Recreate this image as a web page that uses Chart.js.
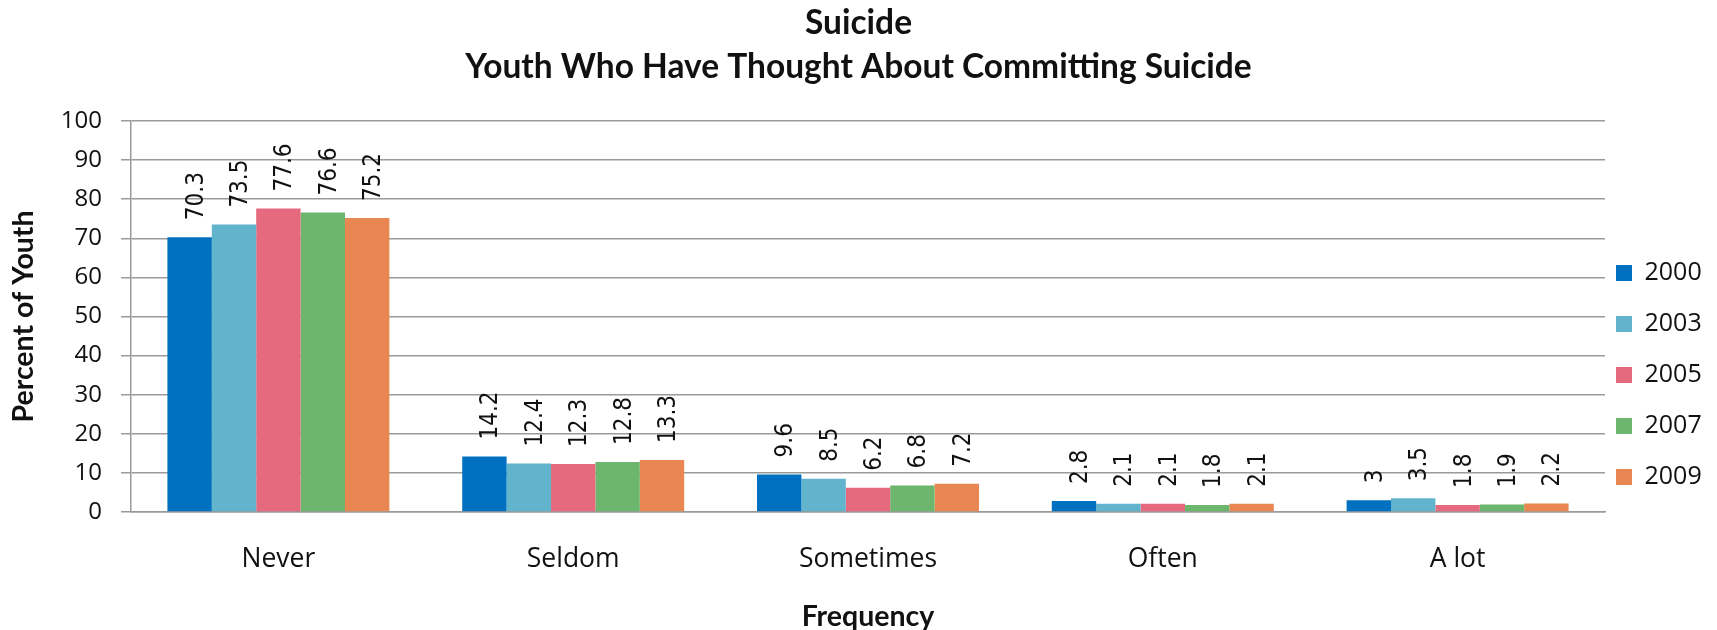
<!DOCTYPE html>
<html>
<head>
<meta charset="utf-8">
<title>Suicide - Youth Who Have Thought About Committing Suicide</title>
<script src="https://cdn.jsdelivr.net/npm/chart.js@4/dist/chart.umd.min.js"></script>
<style>
    html, body { margin: 0; padding: 0; background: #ffffff; }
    canvas { display: block; }
</style>
</head>
<body>
<canvas id="suicideChart" width="1717" height="630"></canvas>
<script>
const frequencies = ['Never', 'Seldom', 'Sometimes', 'Often', 'A lot'];
const years = ['2000', '2003', '2005', '2007', '2009'];
const yearColors = ['#0070C0', '#62B3CC', '#E56A7E', '#6DB66D', '#E88752'];

const values2000 = [70.3, 14.2, 9.6, 2.8, 3];
const values2003 = [73.5, 12.4, 8.5, 2.1, 3.5];
const values2005 = [77.6, 12.3, 6.2, 2.1, 1.8];
const values2007 = [76.6, 12.8, 6.8, 1.8, 1.9];
const values2009 = [75.2, 13.3, 7.2, 2.1, 2.2];
const seriesValues = [values2000, values2003, values2005, values2007, values2009];

const yTicks = [0, 10, 20, 30, 40, 50, 60, 70, 80, 90, 100];

// Rotated value labels above each bar
const barValueLabels = {
    id: 'barValueLabels',
    afterDatasetsDraw(chart) {
        const ctx = chart.ctx;
        ctx.save();
        ctx.font = '24px "DejaVu Sans Condensed", "DejaVu Sans"';
        ctx.fillStyle = '#111111';
        ctx.textAlign = 'left';
        ctx.textBaseline = 'alphabetic';
        chart.data.datasets.forEach((dataset, i) => {
            const meta = chart.getDatasetMeta(i);
            meta.data.forEach((bar, j) => {
                ctx.save();
                ctx.translate(bar.x + 13, bar.y - 17);
                ctx.rotate(-Math.PI / 2);
                ctx.fillText(String(dataset.data[j]), 0, 0);
                ctx.restore();
            });
        });
        ctx.restore();
    }
};

// Nudge the legend so it sits like the original one
const legendShift = {
    id: 'legendShift',
    afterLayout(chart) {
        const legend = chart.legend;
        if (!legend) return;
        legend.left -= 15;
        legend.right -= 15;
        legend.top += 60;
        legend.bottom += 60;
    }
};

const ctx = document.getElementById('suicideChart').getContext('2d');
new Chart(ctx, {
    type: 'bar',
    data: {
        labels: frequencies,
        datasets: years.map((year, i) => ({
            label: year,
            data: seriesValues[i],
            backgroundColor: yearColors[i],
            borderWidth: 0,
            categoryPercentage: 0.753,
            barPercentage: 1.0,
        })),
    },
    options: {
        responsive: false,
        animation: false,
        devicePixelRatio: 1,
        layout: { padding: 0 },
        scales: {
            x: {
                grid: { display: false, drawTicks: false },
                border: { display: true, color: '#9A9A9A', width: 1.5 },
                ticks: {
                    color: '#111111',
                    padding: 32,
                    font: { family: 'Open Sans', size: 26.5 },
                },
                title: {
                    display: true,
                    text: 'Frequency',
                    color: '#111111',
                    padding: { top: 0, bottom: 0 },
                    font: { family: 'Lato', size: 28.5, weight: 'bold', lineHeight: 0.95 },
                },
                afterFit(scale) {
                    scale.height = 118;
                },
            },
            y: {
                min: 0,
                max: 100,
                afterBuildTicks(scale) {
                    scale.ticks = yTicks.map(v => ({ value: v }));
                },
                grid: {
                    color: '#9A9A9A',
                    lineWidth: 1.5,
                    drawTicks: true,
                    tickLength: 10,
                    tickColor: '#9A9A9A',
                },
                border: { display: true, color: '#9A9A9A', width: 1.5 },
                ticks: {
                    color: '#111111',
                    padding: 19,
                    font: { family: 'Open Sans', size: 24 },
                },
                title: {
                    display: true,
                    text: 'Percent of Youth',
                    color: '#111111',
                    padding: { top: 8, bottom: 0 },
                    font: { family: 'Lato', size: 28.5, weight: 'bold', lineHeight: 1.1 },
                },
                afterFit(scale) {
                    scale.width = 131;
                },
            },
        },
        plugins: {
            title: {
                display: true,
                text: ['Suicide', 'Youth Who Have Thought About Committing Suicide'],
                color: '#111111',
                padding: { top: 1, bottom: 32 },
                font: { family: 'Lato', size: 33.5, weight: 'bold', lineHeight: '44px' },
            },
            legend: {
                position: 'right',
                maxWidth: 112,
                labels: {
                    boxWidth: 16,
                    boxHeight: 16,
                    padding: 26,
                    color: '#111111',
                    font: { family: 'Open Sans', size: 25 },
                },
            },
            tooltip: { enabled: false },
        },
    },
    plugins: [barValueLabels, legendShift],
});
</script>
</body>
</html>
